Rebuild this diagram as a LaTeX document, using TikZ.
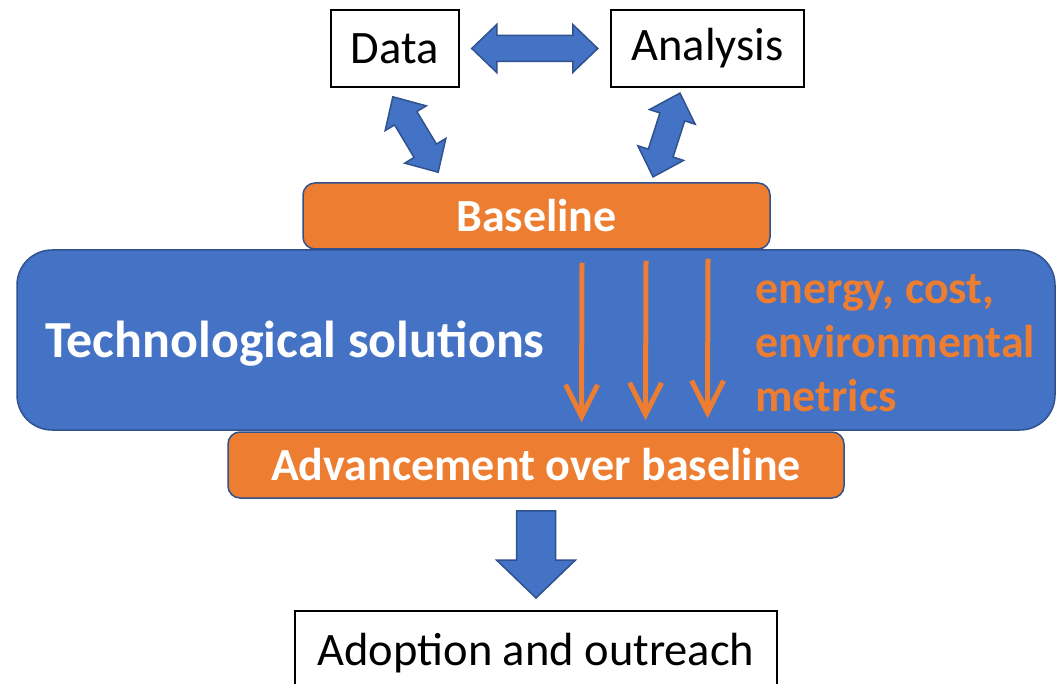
\documentclass[tikz,border=0pt]{standalone}
\usepackage{fontspec}
\setmainfont{Carlito}
\usetikzlibrary{calc,arrows.meta}
\definecolor{pblue}{HTML}{4472C4}
\definecolor{pedge}{HTML}{2F528F}
\definecolor{porange}{HTML}{ED7D31}
\tikzset{
  plainbox/.style={draw=black, line width=2pt, fill=white, inner sep=0pt, font=\fontsize{46.5}{55}\selectfont},
  orbox/.style={draw=pedge, line width=1.5pt, fill=porange, rounded corners=12pt, inner sep=0pt, text=white, font=\fontsize{46}{54}\bfseries\selectfont},
  bluebox/.style={draw=pedge, line width=1.5pt, fill=pblue, rounded corners=35pt, inner sep=0pt},
  blockarr/.style={draw=pedge, line width=1.5pt, fill=pblue, line join=miter},
  metric/.style={draw=porange, line width=5pt, -{Straight Barb[length=32pt,width=32pt,line width=5pt]}},
}
\newcommand\myDblArrow[3]{%
  \begin{scope}[shift={#1}, rotate=#2]
    \filldraw[blockarr] (-#3,0) -- (-#3+25,24) -- (-#3+25,13) -- (#3-25,13) -- (#3-25,24) -- (#3,0)
      -- (#3-25,-24) -- (#3-25,-13) -- (-#3+25,-13) -- (-#3+25,-24) -- cycle;
  \end{scope}}
\begin{document}
\begin{tikzpicture}[x=1pt,y=-1pt]
\useasboundingbox (0,0) rectangle (1057,684);
% boxes
\node[bluebox, minimum width=1038pt, minimum height=180pt] (tech) at (536,340) {};
\node[orbox, minimum width=467pt, minimum height=66pt] (base) at (536.5,216) {Baseline};
\node[orbox, minimum width=616pt, minimum height=66pt] (adv) at (536,465) {Advancement over baseline};
\node[plainbox, minimum width=128pt, minimum height=77pt] (data) at (394.5,48.5) {Data};
\node[plainbox, minimum width=193pt, minimum height=77pt] (ana) at (707.5,48.5) {Analysis};
\node[plainbox, minimum width=482pt, minimum height=84pt] (adop) at (536,653) {Adoption and outreach};
% texts inside blue
\node[text=white, font=\fontsize{52}{60}\bfseries\selectfont, anchor=base] (techtxt) at (295,357) {Technological solutions};
\node[text=porange, font=\fontsize{46}{54}\bfseries\selectfont, anchor=west, align=left, inner sep=0pt] (met) at (755,343) {energy, cost,\\environmental\\metrics};
% block arrows
\myDblArrow{($(data.east)!0.5!(ana.west)$)}{0}{63}
\myDblArrow{(415.5,134.5)}{-59}{44}
\myDblArrow{(666.5,135)}{-107.8}{44}
% down arrow
\coordinate (dtop) at ([yshift=-12pt]adv.south);
\coordinate (dtip) at ([yshift=12pt]adop.north);
\filldraw[blockarr] ($(dtop)+(-19.5,0)$) -- ($(dtop)+(19.5,0)$) -- ($(dtip)+(19.5,-38)$) -- ($(dtip)+(39.5,-38)$)
  -- (dtip) -- ($(dtip)+(-39.5,-38)$) -- ($(dtip)+(-19.5,-38)$) -- cycle;
% metric arrows
\draw[metric] ([xshift=45.5pt,yshift=-13pt]base.south) -- ([xshift=45.5pt,yshift=9pt]adv.north);
\draw[metric] ([xshift=109.5pt,yshift=-11pt]base.south) -- ([xshift=109.5pt,yshift=11pt]adv.north);
\draw[metric] ([xshift=171.5pt,yshift=-9pt]base.south) -- ([xshift=171.5pt,yshift=13pt]adv.north);
\end{tikzpicture}
\end{document}
